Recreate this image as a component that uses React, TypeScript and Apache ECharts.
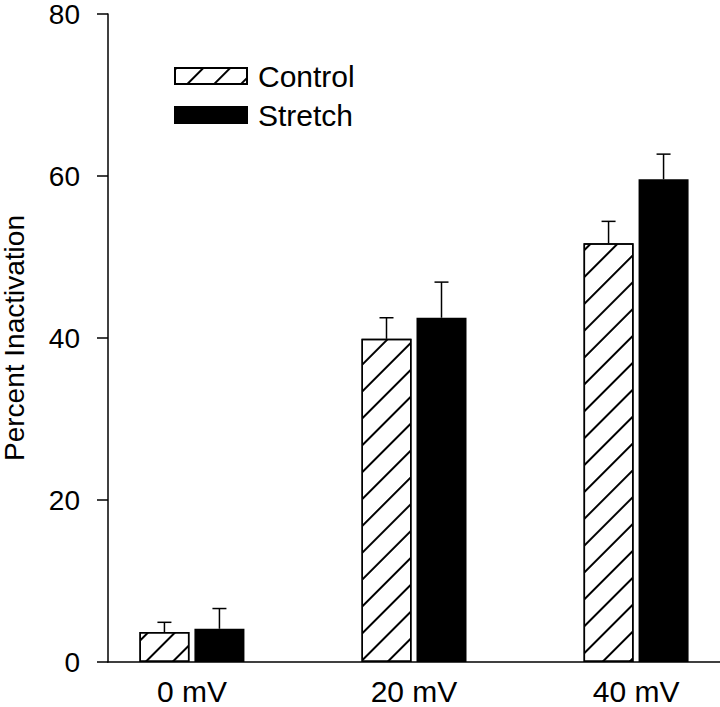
import React, { useEffect, useRef } from "react";
import * as echarts from "echarts";

const categories = ["0 mV", "20 mV", "40 mV"];
const categoryPos = [0, 1, 2];
const controlMean = [3.7, 39.9, 51.7];
const controlErr = [1.2, 2.6, 2.7];
const stretchMean = [4.1, 42.5, 59.6];
const stretchErr = [2.5, 4.4, 3.1];
const yMin = 0;
const yMax = 80;
const yStep = 20;

const FONT = "'Liberation Sans', Arial, Helvetica, sans-serif";
const BAR_W = 50;
const HALF_OFF = 27.5;

function errorSeries(name: string, means: number[], errs: number[], off: number) {
  return {
    type: "custom",
    name,
    silent: true,
    z: 5,
    data: categoryPos.map((x, i) => [x, means[i], errs[i]]),
    renderItem: (_params: any, api: any) => {
      const x = api.value(0);
      const m = api.value(1);
      const e = api.value(2);
      const base = api.coord([x, m]);
      const top = api.coord([x, m + e]);
      const cx = base[0] + off;
      const st = { stroke: "#000", lineWidth: 1.5 };
      return {
        type: "group",
        children: [
          { type: "line", shape: { x1: cx, y1: base[1], x2: cx, y2: top[1] }, style: st },
          { type: "line", shape: { x1: cx - 7, y1: top[1], x2: cx + 7, y2: top[1] }, style: st },
        ],
      };
    },
  };
}

export default function App() {
  const ref = useRef<HTMLDivElement>(null);
  useEffect(() => {
    if (!ref.current) return;
    const chart = echarts.init(ref.current, undefined, { renderer: "svg" });
    const option: any = {
      animation: false,
      backgroundColor: "#fff",
      textStyle: { fontFamily: FONT, color: "#000" },
      grid: {
        left: 108,
        right: 0,
        top: 14,
        bottom: 45,
        containLabel: false,
        outerBoundsMode: "none",
      },
      legend: {
        orient: "vertical",
        left: 169,
        top: 56,
        itemWidth: 72,
        itemHeight: 16,
        itemGap: 9,
        icon: "rect",
        data: ["Control", "Stretch"],
        textStyle: { fontFamily: FONT, fontSize: 30, color: "#000", padding: [0, 0, 0, 6] },
      },
      xAxis: {
        type: "value",
        min: -0.378,
        max: 2.378,
        splitLine: { show: false },
        axisTick: { show: false },
        axisLine: { show: true, onZero: false, lineStyle: { color: "#000", width: 1.5 } },
        axisLabel: {
          customValues: categoryPos,
          formatter: (v: number) => categories[Math.round(v)] ?? "",
          fontFamily: FONT,
          fontSize: 30,
          color: "#000",
          margin: 14,
        },
      },
      yAxis: {
        type: "value",
        min: yMin,
        max: yMax,
        interval: yStep,
        name: "Percent Inactivation",
        nameLocation: "middle",
        nameGap: 80,
        nameTextStyle: { fontFamily: FONT, fontSize: 28, color: "#000" },
        splitLine: { show: false },
        axisLine: { show: true, onZero: false, lineStyle: { color: "#000", width: 1.5 } },
        axisTick: { show: true, length: 11, lineStyle: { color: "#000", width: 1.5 } },
        axisLabel: { fontFamily: FONT, fontSize: 28, color: "#000", margin: 28 },
      },
      series: [
        {
          type: "bar",
          name: "Control",
          barWidth: BAR_W,
          barGap: "10%",
          data: categoryPos.map((x, i) => [x, controlMean[i]]),
          itemStyle: {
            color: "#fff",
            borderColor: "#000",
            borderWidth: 1.5,
            decal: {
              symbol: "rect",
              symbolSize: 1,
              dashArrayX: [1, 0],
              dashArrayY: [1.5, 17],
              rotation: -Math.PI / 4,
              color: "#000",
            },
          },
        },
        {
          type: "bar",
          name: "Stretch",
          barWidth: BAR_W,
          barGap: "10%",
          data: categoryPos.map((x, i) => [x, stretchMean[i]]),
          itemStyle: { color: "#000", borderColor: "#000", borderWidth: 1.5 },
        },
        errorSeries("Control SEM", controlMean, controlErr, -HALF_OFF),
        errorSeries("Stretch SEM", stretchMean, stretchErr, HALF_OFF),
      ],
    };
    chart.setOption(option);
    return () => chart.dispose();
  }, []);
  return (
    <div
      ref={ref}
      style={{ position: "fixed", left: 0, top: 0, width: 720, height: 707 }}
    />
  );
}
